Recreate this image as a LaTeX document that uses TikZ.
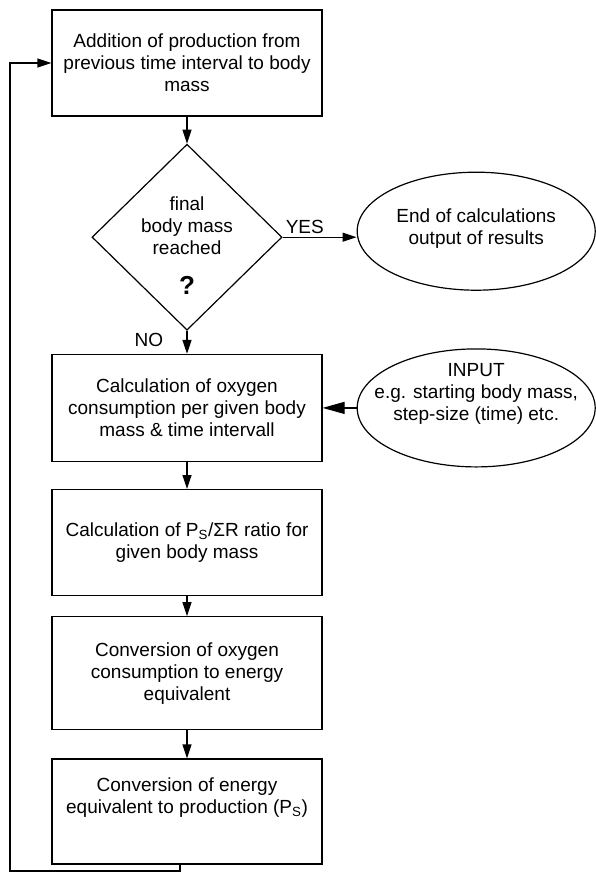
\documentclass[tikz,border=0pt]{standalone}
\usepackage{fontspec}
\setmainfont{Liberation Sans}
\usetikzlibrary{arrows.meta,shapes.geometric,positioning}

\begin{document}
\begin{tikzpicture}[>={Triangle[length=14pt,width=9pt]},line width=1.2pt,
    font=\fontsize{19}{22}\selectfont,node distance=27pt,
    every node/.append style={align=center},
    stepbox/.style={draw,minimum width=270pt,inner sep=0pt},
    decision/.style={draw,diamond,minimum width=190pt,minimum height=186pt,inner sep=0pt},
    oval/.style={draw,ellipse,minimum width=238pt,minimum height=118pt,inner sep=0pt},
    bigtip/.style={-{Triangle[length=22pt,width=12pt]}}]
% fix the page to the size of the original
  \useasboundingbox (0pt,0pt) rectangle (596pt,-876pt);

% define the boxes of the loop
  \node[stepbox,minimum height=106pt] (add) at (187pt,-63pt) {Addition of production from\\previous time interval to body\\mass};
  \node[decision]  (check) [below=of add] {};
  \node            (checktext) at ([yshift=-8pt]check.center) {final\\body mass\\reached\\[18pt]{\fontsize{26}{28}\selectfont\bfseries ?}};
  \node[stepbox,minimum height=107pt] (oxygen) [below=23pt of check] {Calculation of oxygen\\consumption per given body\\mass \& time intervall};
  \node[stepbox,minimum height=106pt] (ratio) [below=of oxygen] {Calculation of P\textsubscript{S}/ΣR ratio for\\given body mass};
  \node[stepbox,minimum height=113pt] (energy) [below=20pt of ratio] {Conversion of oxygen\\consumption to energy\\equivalent};
  \node[stepbox,minimum height=105pt] (production) [below=28pt of energy] {Conversion of energy\\equivalent to production (P\textsubscript{S})\\[10pt]\mbox{}};

% define the ovals on the right
  \node[oval]      (finish) [right=74pt of check,yshift=6pt] {};
  \node            (finishtext) at ([yshift=3pt]finish.center) {End of calculations\\output of results};
  \node[oval]      (input) [right=34pt of oxygen] {};
  \node            (inputtext) at ([yshift=14pt]input.center) {INPUT\\e.g. starting body mass,\\step-size (time) etc.};
  \coordinate      (loop) at (10pt,-871pt);

% define the links
  \path[->] (add) edge (check)
        (check.east) edge node[pos=0.3,above] {YES} (check.east -| finish.west)
        (check) edge node[pos=0.4,left=20pt] {NO} (oxygen)
        (oxygen) edge (ratio)
        (ratio) edge (energy)
        (energy) edge (production)
        (input) edge[bigtip] (oxygen);
  \draw[->] ([xshift=-7pt]production.south) |- (loop) |- (add.west);
\end{tikzpicture}
\end{document}
